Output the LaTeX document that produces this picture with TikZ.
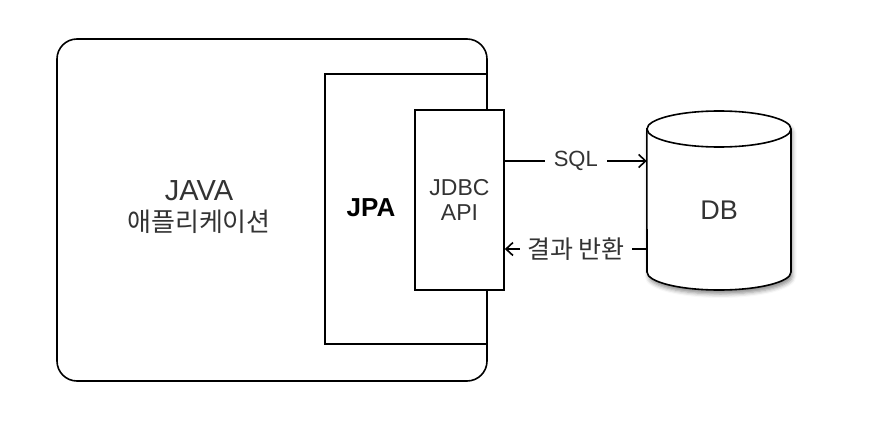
\documentclass[tikz,border=0pt]{standalone}
\usepackage{fontspec}
\setmainfont{Liberation Sans}
\newfontfamily\kor{Noto Sans CJK KR}
\usetikzlibrary{arrows.meta,shadows.blur}
\definecolor{txt}{HTML}{333333}
\tikzset{
  ln/.style={line width=1.6pt, draw=black},
  conn/.style={line width=1.6pt, -{Straight Barb[length=7pt,width=13pt,line width=1.6pt]}},
  lbl/.style={fill=white, inner xsep=9pt, inner ysep=2pt, text=txt, font=\fontsize{22}{26}\selectfont},
  box/.style={ln, fill=white, inner sep=0pt},
}
\begin{document}
\begin{tikzpicture}[x=1pt,y=-1pt]
\useasboundingbox (0,0) rectangle (880,436);
% outer application box
\node[box, rounded corners=20pt, minimum width=430pt, minimum height=342pt] (app) at (272,210) {};
\node[text=txt, align=center, font=\fontsize{29}{33}\selectfont] (apptxt) at (199,207) {JAVA\\[-2pt]{\kor\fontsize{26}{33}\selectfont 애플리케이션}};
% JPA box (three sides, right side is the app border)
\node[inner sep=0pt, minimum width=162pt, minimum height=270pt] (jpa) at (406,209) {};
\draw[ln] (jpa.north east) -- (jpa.north west) -- (jpa.south west) -- (jpa.south east);
\node[font=\bfseries\fontsize{26}{30}\selectfont] (jpatxt) at (371,208) {JPA};
% JDBC API box
\node[box, minimum width=89pt, minimum height=180pt, text=txt, align=center, font=\fontsize{23}{25}\selectfont] (jdbc) at (459.5,200) {JDBC\\API};
% DB cylinder
\node[inner sep=0pt, minimum width=144pt, minimum height=179pt] (db) at (719,200.5) {};
\path[ln, fill=white, blur shadow={shadow xshift=1.5pt, shadow yshift=-4pt, shadow blur radius=4pt, shadow opacity=45}]
  (db.west |- 0,129) -- (647,272)
  .. controls (647,281.94) and (679.2,290) .. (719,290)
  .. controls (758.8,290) and (791,281.94) .. (791,272)
  -- (791,129)
  .. controls (791,119.06) and (758.8,111) .. (719,111)
  .. controls (679.2,111) and (647,119.06) .. (647,129) -- cycle;
\draw[ln] (647,129) .. controls (647,138.94) and (679.2,147) .. (719,147)
  .. controls (758.8,147) and (791,138.94) .. (791,129);
\node[text=txt, font=\fontsize{27}{30}\selectfont] (dbtxt) at ([yshift=-9.5pt]db.center) {DB};
% connectors
\draw[conn] ([yshift=39pt]jdbc.east) -- node[lbl] {SQL} ([yshift=39pt]jdbc.east -| db.west);
\draw[conn] ([yshift=-49pt]jdbc.east -| db.west) -- node[lbl, inner xsep=7pt, font=\fontsize{25}{28}\selectfont] {\kor 결과 반환} ([yshift=-49pt]jdbc.east);
\end{tikzpicture}
\end{document}
